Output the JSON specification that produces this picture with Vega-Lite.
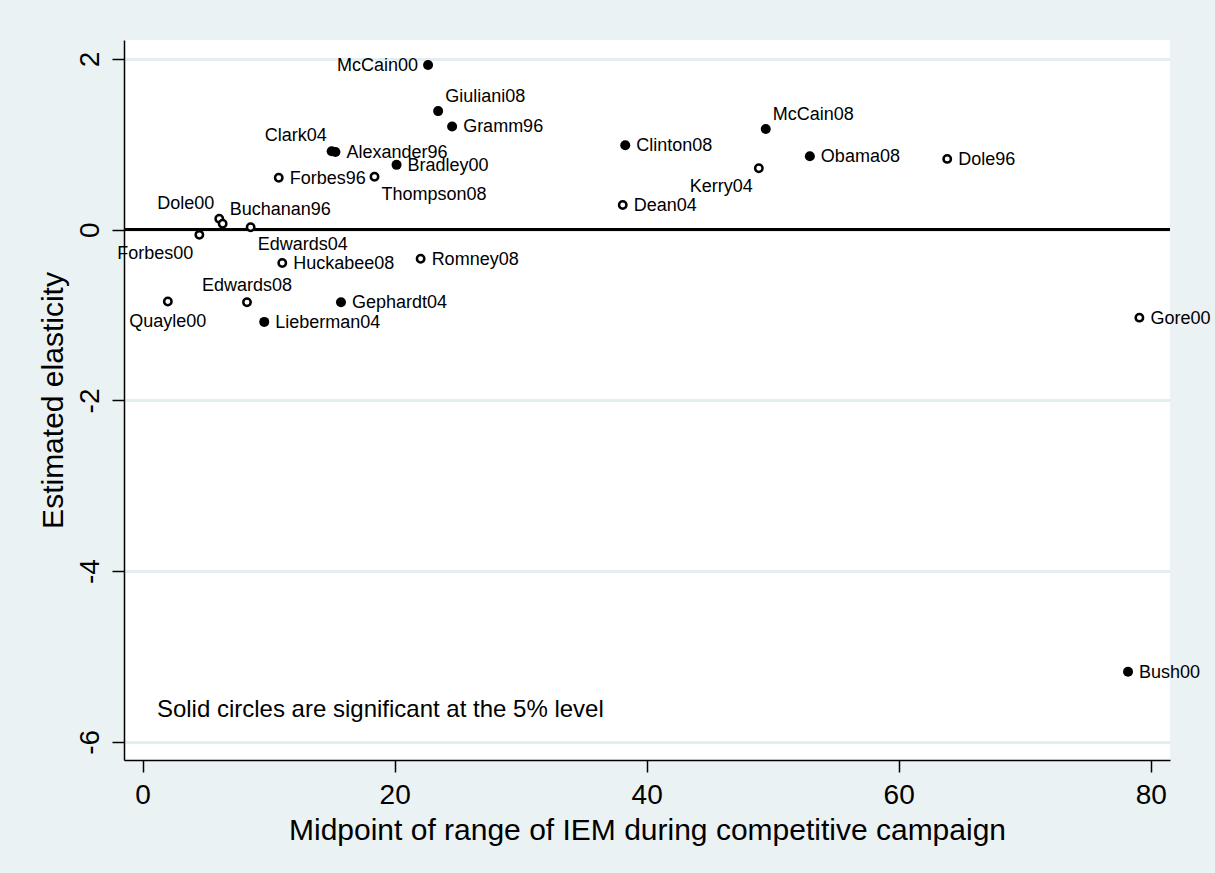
{
  "$schema": "https://vega.github.io/schema/vega-lite/v6.json",
  "width": 1046,
  "height": 720,
  "autosize": {"type": "none"},
  "padding": {"left": 124, "top": 40, "right": 45, "bottom": 113},
  "background": "#EAF2F3",
  "config": {
    "view": {"fill": "white", "stroke": null},
    "font": "Liberation Sans",
    "axis": {
      "domainColor": "black",
      "domainWidth": 1.5,
      "tickColor": "black",
      "tickWidth": 1.5,
      "tickSize": 12,
      "labelFontSize": 28,
      "titleFontSize": 30,
      "titleFontWeight": "normal",
      "labelColor": "black",
      "titleColor": "black",
      "labelFont": "Liberation Sans",
      "titleFont": "Liberation Sans"
    }
  },
  "data": {
    "values": [
      {"name": "McCain00", "x": 22.65, "y": 1.93, "sig": "solid", "pos": 9},
      {"name": "Giuliani08", "x": 23.45, "y": 1.39, "sig": "solid", "pos": 1},
      {"name": "Gramm96", "x": 24.56, "y": 1.21, "sig": "solid", "pos": 3},
      {"name": "Clark04", "x": 15.0, "y": 0.92, "sig": "solid", "pos": 11},
      {"name": "Alexander96", "x": 15.3, "y": 0.91, "sig": "solid", "pos": 3},
      {"name": "Bradley00", "x": 20.15, "y": 0.76, "sig": "solid", "pos": 3},
      {"name": "Forbes96", "x": 10.8, "y": 0.61, "sig": "hollow", "pos": 3},
      {"name": "Thompson08", "x": 18.4, "y": 0.62, "sig": "hollow", "pos": 5},
      {"name": "Dole00", "x": 6.08, "y": 0.13, "sig": "hollow", "pos": 11},
      {"name": "Buchanan96", "x": 6.35, "y": 0.07, "sig": "hollow", "pos": 1},
      {"name": "Edwards04", "x": 8.57, "y": 0.03, "sig": "hollow", "pos": 5},
      {"name": "Forbes00", "x": 4.5, "y": -0.06, "sig": "hollow", "pos": 7},
      {"name": "Huckabee08", "x": 11.08, "y": -0.39, "sig": "hollow", "pos": 3},
      {"name": "Romney08", "x": 22.06, "y": -0.34, "sig": "hollow", "pos": 3},
      {"name": "Edwards08", "x": 8.28, "y": -0.85, "sig": "hollow", "pos": 12},
      {"name": "Quayle00", "x": 2.0, "y": -0.84, "sig": "hollow", "pos": 6},
      {"name": "Gephardt04", "x": 15.74, "y": -0.85, "sig": "solid", "pos": 3},
      {"name": "Lieberman04", "x": 9.65, "y": -1.08, "sig": "solid", "pos": 3},
      {"name": "Clinton08", "x": 38.3, "y": 0.99, "sig": "solid", "pos": 3},
      {"name": "Dean04", "x": 38.1, "y": 0.29, "sig": "hollow", "pos": 3},
      {"name": "McCain08", "x": 49.45, "y": 1.18, "sig": "solid", "pos": 1},
      {"name": "Kerry04", "x": 48.9, "y": 0.72, "sig": "hollow", "pos": 7},
      {"name": "Obama08", "x": 52.95, "y": 0.86, "sig": "solid", "pos": 3},
      {"name": "Dole96", "x": 63.85, "y": 0.83, "sig": "hollow", "pos": 3},
      {"name": "Gore00", "x": 79.1, "y": -1.03, "sig": "hollow", "pos": 3},
      {"name": "Bush00", "x": 78.2, "y": -5.18, "sig": "solid", "pos": 3}
    ]
  },
  "layer": [
    {
      "mark": {"type": "rule", "color": "black", "strokeWidth": 2.5},
      "encoding": {"y": {"datum": 0, "type": "quantitative"}}
    },
    {
      "transform": [{"filter": "datum.sig == 'solid'"}],
      "mark": {"type": "point", "shape": "circle", "filled": true, "color": "black", "size": 100, "opacity": 1},
      "encoding": {
        "x": {
          "field": "x", "type": "quantitative",
          "scale": {"domain": [-1.48, 81.53], "nice": false, "zero": false},
          "axis": {"values": [0, 20, 40, 60, 80], "labelExpr": "'' + datum.value", "grid": false, "title": "Midpoint of range of IEM during competitive campaign", "labelPadding": 9, "titlePadding": 6}
        },
        "y": {
          "field": "y", "type": "quantitative",
          "scale": {"domain": [-6.213, 2.223], "nice": false, "zero": false},
          "axis": {"values": [-6, -4, -2, 0, 2], "labelExpr": "'' + datum.value", "grid": true, "gridColor": "#E4EEF0", "gridWidth": 3, "labelAngle": 270, "labelPadding": 8, "title": "Estimated elasticity", "titlePadding": 8}
        }
      }
    },
    {
      "transform": [{"filter": "datum.sig == 'hollow'"}],
      "mark": {"type": "point", "shape": "circle", "filled": false, "stroke": "black", "fill": "white", "strokeWidth": 2.5, "size": 55, "opacity": 1},
      "encoding": {
        "x": {"field": "x", "type": "quantitative"},
        "y": {"field": "y", "type": "quantitative"}
      }
    },
    {
      "transform": [{"filter": "datum.pos == 3"}],
      "mark": {"type": "text", "align": "left", "baseline": "middle", "dx": 11, "dy": 1, "fontSize": 18, "color": "black"},
      "encoding": {"x": {"field": "x", "type": "quantitative"}, "y": {"field": "y", "type": "quantitative"}, "text": {"field": "name"}}
    },
    {
      "transform": [{"filter": "datum.pos == 9"}],
      "mark": {"type": "text", "align": "right", "baseline": "middle", "dx": -10, "dy": 1, "fontSize": 18, "color": "black"},
      "encoding": {"x": {"field": "x", "type": "quantitative"}, "y": {"field": "y", "type": "quantitative"}, "text": {"field": "name"}}
    },
    {
      "transform": [{"filter": "datum.pos == 1"}],
      "mark": {"type": "text", "align": "left", "baseline": "middle", "dx": 7, "dy": -14, "fontSize": 18, "color": "black"},
      "encoding": {"x": {"field": "x", "type": "quantitative"}, "y": {"field": "y", "type": "quantitative"}, "text": {"field": "name"}}
    },
    {
      "transform": [{"filter": "datum.pos == 11"}],
      "mark": {"type": "text", "align": "right", "baseline": "middle", "dx": -5, "dy": -15, "fontSize": 18, "color": "black"},
      "encoding": {"x": {"field": "x", "type": "quantitative"}, "y": {"field": "y", "type": "quantitative"}, "text": {"field": "name"}}
    },
    {
      "transform": [{"filter": "datum.pos == 5"}],
      "mark": {"type": "text", "align": "left", "baseline": "middle", "dx": 7, "dy": 18, "fontSize": 18, "color": "black"},
      "encoding": {"x": {"field": "x", "type": "quantitative"}, "y": {"field": "y", "type": "quantitative"}, "text": {"field": "name"}}
    },
    {
      "transform": [{"filter": "datum.pos == 7"}],
      "mark": {"type": "text", "align": "right", "baseline": "middle", "dx": -6, "dy": 19, "fontSize": 18, "color": "black"},
      "encoding": {"x": {"field": "x", "type": "quantitative"}, "y": {"field": "y", "type": "quantitative"}, "text": {"field": "name"}}
    },
    {
      "transform": [{"filter": "datum.pos == 12"}],
      "mark": {"type": "text", "align": "center", "baseline": "middle", "dy": -16, "fontSize": 18, "color": "black"},
      "encoding": {"x": {"field": "x", "type": "quantitative"}, "y": {"field": "y", "type": "quantitative"}, "text": {"field": "name"}}
    },
    {
      "transform": [{"filter": "datum.pos == 6"}],
      "mark": {"type": "text", "align": "center", "baseline": "middle", "dy": 21, "fontSize": 18, "color": "black"},
      "encoding": {"x": {"field": "x", "type": "quantitative"}, "y": {"field": "y", "type": "quantitative"}, "text": {"field": "name"}}
    },
    {
      "data": {"values": [{"note": "Solid circles are significant at the 5% level", "x": 1.13, "y": -5.71}]},
      "mark": {"type": "text", "align": "left", "baseline": "alphabetic", "fontSize": 24, "color": "black"},
      "encoding": {"x": {"field": "x", "type": "quantitative"}, "y": {"field": "y", "type": "quantitative"}, "text": {"field": "note"}}
    }
  ]
}
